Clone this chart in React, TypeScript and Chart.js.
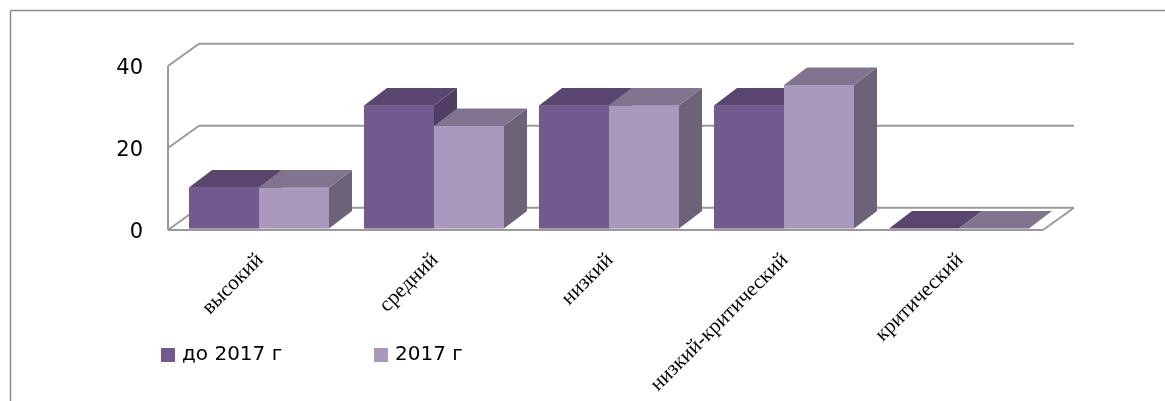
import React, { useEffect, useRef } from "react";
import { Chart, registerables } from "chart.js";

Chart.register(...registerables);

const categories = ["высокий", "средний", "низкий", "низкий-критический", "критический"];
const seriesNames = ["до 2017 г", "2017 г"];
const before2017 = [10, 30, 30, 30, 0];
const in2017 = [10, 25, 30, 35, 0];
const yTicks = [0, 20, 40];

const frontColors = ["#735A8E", "#A999BD"];
const topColors = ["#5A456F", "#81748F"];
const sideColors = ["#4E3E61", "#6C6379"];

const W = 1165;
const H = 401;

// 3D offsets relative to the bar plane
const DEPTH = { dx: 23, dy: -17.5 };
const FRONT = { dx: -3.5, dy: 1.5 };
const BACK = { dx: 27.5, dy: -20.7 };

function poly(ctx: CanvasRenderingContext2D, pts: number[][], color: string) {
  ctx.beginPath();
  ctx.moveTo(pts[0][0], pts[0][1]);
  for (let i = 1; i < pts.length; i++) ctx.lineTo(pts[i][0], pts[i][1]);
  ctx.closePath();
  ctx.fillStyle = color;
  ctx.fill();
}

function line(ctx: CanvasRenderingContext2D, x1: number, y1: number, x2: number, y2: number) {
  ctx.beginPath();
  ctx.moveTo(x1, y1);
  ctx.lineTo(x2, y2);
  ctx.stroke();
}

const threeD = {
  id: "threeD",
  beforeDraw(chart: any) {
    const ctx = chart.ctx as CanvasRenderingContext2D;
    ctx.save();
    ctx.fillStyle = "#ffffff";
    ctx.fillRect(0, 0, W, H);
    ctx.strokeStyle = "#8c8c8c";
    ctx.lineWidth = 1.5;
    line(ctx, 10.5, H + 5, 10.5, 10.5);
    line(ctx, 10.5, 10.5, W + 5, 10.5);
    ctx.restore();
  },
  beforeDatasetsDraw(chart: any) {
    const ctx = chart.ctx as CanvasRenderingContext2D;
    const { left, right } = chart.chartArea;
    const yS = chart.scales.y;
    const fl = left + FRONT.dx;
    const fr = right + FRONT.dx;
    const bl = left + BACK.dx;
    const br = right + BACK.dx;
    ctx.save();
    ctx.strokeStyle = "#9a9a9a";
    ctx.lineWidth = 2;
    for (const v of yTicks) {
      const y = yS.getPixelForValue(v);
      line(ctx, bl, y + BACK.dy, br, y + BACK.dy);
      line(ctx, fl, y + FRONT.dy, bl, y + BACK.dy);
    }
    const y0 = yS.getPixelForValue(0);
    const yMax = yS.getPixelForValue(yTicks[yTicks.length - 1]);
    line(ctx, fl, yMax + FRONT.dy, fl, y0 + FRONT.dy);
    line(ctx, fl, y0 + FRONT.dy, fr, y0 + FRONT.dy);
    line(ctx, fr, y0 + FRONT.dy, br, y0 + BACK.dy);
    ctx.restore();
  },
  afterDatasetsDraw(chart: any) {
    const ctx = chart.ctx as CanvasRenderingContext2D;
    const metas = [chart.getDatasetMeta(0), chart.getDatasetMeta(1)];
    ctx.save();
    for (let i = 0; i < categories.length; i++) {
      for (let d = 0; d < metas.length; d++) {
        const el = metas[d].data[i];
        const p = el.getProps(["x", "y", "base", "width"], true);
        const l = p.x - p.width / 2;
        const r = p.x + p.width / 2;
        const top = Math.min(p.y, p.base);
        const bot = Math.max(p.y, p.base);
        if (bot - top > 0.5) {
          ctx.fillStyle = frontColors[d];
          ctx.fillRect(l, top, r - l, bot - top);
          poly(ctx, [[r, top], [r + DEPTH.dx, top + DEPTH.dy], [r + DEPTH.dx, bot + DEPTH.dy], [r, bot]], sideColors[d]);
        }
        poly(ctx, [[l, top], [r, top], [r + DEPTH.dx, top + DEPTH.dy], [l + DEPTH.dx, top + DEPTH.dy]], topColors[d]);
      }
    }
    ctx.restore();
  },
  afterDraw(chart: any) {
    const ctx = chart.ctx as CanvasRenderingContext2D;
    const { left } = chart.chartArea;
    const yS = chart.scales.y;
    const xS = chart.scales.x;
    ctx.save();
    ctx.fillStyle = "#000000";
    // y tick labels
    ctx.font = "21px 'DejaVu Sans'";
    ctx.textAlign = "right";
    ctx.textBaseline = "middle";
    for (const v of yTicks) {
      ctx.fillText(String(v), left + FRONT.dx - 25, yS.getPixelForValue(v) + FRONT.dy + 2.5);
    }
    // category labels
    ctx.font = "21px 'Liberation Serif'";
    ctx.textAlign = "right";
    ctx.textBaseline = "middle";
    categories.forEach((c, i) => {
      const x = xS.getPixelForValue(i) + 1;
      const y = 257;
      ctx.save();
      ctx.translate(x, y);
      ctx.rotate(-Math.PI / 4);
      ctx.fillText(c, 0, 0);
      ctx.restore();
    });
    // legend
    ctx.font = "20px 'DejaVu Sans'";
    ctx.textAlign = "left";
    ctx.textBaseline = "middle";
    const legendX = [161, 374];
    seriesNames.forEach((n, d) => {
      ctx.fillStyle = frontColors[d];
      ctx.fillRect(legendX[d], 348, 14, 14);
      ctx.fillStyle = "#000000";
      ctx.fillText(n, legendX[d] + 21, 355);
    });
    ctx.restore();
  },
};

export default function App() {
  const ref = useRef<HTMLCanvasElement | null>(null);
  useEffect(() => {
    if (!ref.current) return;
    const chart = new Chart(ref.current, {
      type: "bar",
      data: {
        labels: categories,
        datasets: [
          {
            label: seriesNames[0],
            data: before2017,
            backgroundColor: frontColors[0],
            borderWidth: 0,
            categoryPercentage: 0.8,
            barPercentage: 1.0,
          },
          {
            label: seriesNames[1],
            data: in2017,
            backgroundColor: frontColors[1],
            borderWidth: 0,
            categoryPercentage: 0.8,
            barPercentage: 1.0,
          },
        ],
      },
      options: {
        responsive: false,
        animation: false,
        devicePixelRatio: 1,
        layout: { padding: { left: 171.5, right: W - 1046.5, top: 64.5, bottom: H - 228.5 } },
        scales: {
          x: { display: false, offset: true, grid: { display: false } },
          y: { display: false, min: 0, max: 40, grid: { display: false } },
        },
        plugins: {
          legend: { display: false },
          tooltip: { enabled: false },
          title: { display: false },
        },
      },
      plugins: [threeD],
    });
    return () => chart.destroy();
  }, []);
  return (
    <div style={{ position: "absolute", left: 0, top: 0, width: W, height: H }}>
      <canvas ref={ref} width={W} height={H} style={{ display: "block" }} />
    </div>
  );
}
